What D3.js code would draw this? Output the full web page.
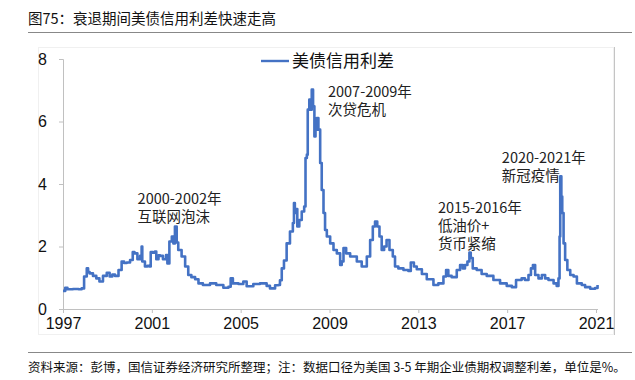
<!DOCTYPE html>
<html>
<head>
<meta charset="utf-8">
<script src="https://cdn.jsdelivr.net/npm/d3@7"></script>
<style>
  body { margin: 0; background: #fff; }
  svg { display: block; }
  .cn { font-family: "Noto Sans CJK SC", "Noto Sans", sans-serif; }
  .num { font-family: "Liberation Sans", Arial, sans-serif; }
</style>
</head>
<body>
<svg width="635" height="380"></svg>
<script>
// decimal year positions as drawn on the chart, and the spread in %
var years = [
  1997.00, 1997.10, 1997.20, 1997.45, 1997.70, 1997.84, 1997.95, 1998.07, 1998.13, 1998.20,
  1998.35, 1998.50, 1998.64, 1998.80, 1998.97, 1999.10, 1999.22, 1999.34, 1999.50, 1999.64,
  1999.75, 1999.87, 2000.02, 2000.14, 2000.22, 2000.35, 2000.47, 2000.53, 2000.54, 2000.57,
  2000.69, 2000.80, 2000.89, 2000.95, 2001.05, 2001.14, 2001.20, 2001.30, 2001.37, 2001.50,
  2001.64, 2001.70, 2001.79, 2001.90, 2001.97, 2002.04, 2002.12, 2002.19, 2002.34, 2002.50,
  2002.64, 2002.78, 2002.95, 2003.10, 2003.30, 2003.62, 2003.90, 2004.22, 2004.45, 2004.55,
  2004.65, 2004.90, 2005.12, 2005.27, 2005.57, 2005.87, 2006.17, 2006.32, 2006.55, 2006.70,
  2006.77, 2006.85, 2006.95, 2007.07, 2007.22, 2007.35, 2007.40, 2007.44, 2007.48, 2007.55,
  2007.64, 2007.75, 2007.86, 2007.92, 2007.98, 2008.02, 2008.09, 2008.15, 2008.20, 2008.26,
  2008.32, 2008.37, 2008.43, 2008.50, 2008.58, 2008.65, 2008.73, 2008.80, 2008.88, 2009.03,
  2009.18, 2009.33, 2009.48, 2009.55, 2009.63, 2009.75, 2009.93, 2010.10, 2010.23, 2010.45,
  2010.68, 2010.83, 2010.95, 2011.05, 2011.15, 2011.25, 2011.35, 2011.46, 2011.57, 2011.70,
  2011.85, 2011.95, 2012.10, 2012.33, 2012.55, 2012.66, 2012.80, 2012.93, 2013.16, 2013.38,
  2013.68, 2013.90, 2014.13, 2014.25, 2014.35, 2014.50, 2014.73, 2014.88, 2015.00, 2015.10,
  2015.21, 2015.30, 2015.36, 2015.45, 2015.63, 2015.85, 2016.08, 2016.38, 2016.68, 2016.98,
  2017.21, 2017.40, 2017.65, 2017.80, 2017.96, 2018.07, 2018.16, 2018.26, 2018.41, 2018.56,
  2018.71, 2018.86, 2019.09, 2019.23, 2019.31, 2019.36, 2019.39, 2019.44, 2019.48, 2019.54,
  2019.61, 2019.71, 2019.84, 2019.99, 2020.14, 2020.36, 2020.51, 2020.74, 2020.96, 2021.07
];
var spread = [
  0.58, 0.68, 0.63, 0.64, 0.63, 0.66, 1.04, 1.30, 1.18, 1.14,
  1.06, 0.98, 0.88, 1.06, 1.16, 1.04, 1.10, 1.06, 1.25, 1.52,
  1.47, 1.49, 1.57, 1.82, 1.78, 1.59, 1.70, 1.70, 2.00, 1.52,
  1.36, 1.38, 1.36, 1.82, 1.80, 1.84, 1.59, 1.72, 1.70, 1.59,
  1.73, 1.46, 2.16, 2.32, 2.10, 2.64, 2.13, 1.89, 1.68, 1.36,
  1.09, 1.02, 0.95, 0.82, 0.77, 0.82, 0.77, 0.68, 0.71, 0.98,
  0.82, 0.80, 0.88, 0.73, 0.80, 0.82, 0.74, 0.66, 0.76, 0.77,
  0.92, 1.30, 1.55, 2.10, 2.48, 2.75, 3.39, 3.07, 3.20, 2.64,
  2.85, 3.12, 3.28, 4.83, 4.94, 6.38, 6.70, 6.38, 7.02, 6.49,
  5.52, 5.74, 6.11, 5.74, 4.67, 3.81, 3.07, 2.53, 2.32, 2.10,
  1.89, 1.78, 1.41, 1.52, 1.95, 1.78, 1.68, 1.68, 1.52, 1.36,
  1.68, 2.21, 2.64, 2.80, 2.64, 2.32, 1.89, 2.00, 2.21, 1.89,
  1.68, 1.36, 1.30, 1.25, 1.22, 1.49, 1.36, 1.27, 1.12, 0.95,
  0.77, 0.82, 1.04, 1.25, 1.06, 1.02, 1.25, 1.41, 1.30, 1.41,
  1.52, 1.81, 1.63, 1.30, 1.25, 1.12, 1.06, 0.93, 0.82, 0.74,
  0.70, 0.93, 0.98, 0.93, 1.09, 1.30, 1.41, 1.09, 0.98, 1.09,
  0.98, 0.93, 0.82, 0.74, 0.98, 2.32, 4.25, 3.60, 3.07, 2.10,
  1.57, 1.25, 1.09, 1.04, 0.82, 0.77, 0.70, 0.65, 0.67, 0.77
];
var xTicks = [1997, 2001, 2005, 2009, 2013, 2017, 2021];
var yTicks = [0, 2, 4, 6, 8];
var seriesName = "美债信用利差";
// annotation anchors in chart units (left edge / first baseline)
var noteAt = [[2000.36, 3.36], [2008.93, 6.78], [2013.88, 3.07], [2016.76, 4.67]];
var noteText = [
  ["2000-2002年", "互联网泡沫"],
  ["2007-2009年", "次贷危机"],
  ["2015-2016年", "低油价+", "货币紧缩"],
  ["2020-2021年", "新冠疫情"]
];

var svg = d3.select("svg");

var x = d3.scaleLinear().domain([1997, 2021]).range([63, 596]);
var y = d3.scaleLinear().domain([0, 8]).range([309, 59]);

// title + rules
svg.append("text").attr("class", "cn")
  .attr("x", 28).attr("y", 24)
  .attr("font-size", 14.5).attr("fill", "#111")
  .text("图75：衰退期间美债信用利差快速走高");
svg.append("line").attr("x1", 28).attr("x2", 632).attr("y1", 32.5).attr("y2", 32.5)
  .attr("stroke", "#888").attr("stroke-width", 1);

// chart frame
svg.append("rect").attr("x", 38.5).attr("y", 47.5).attr("width", 575).attr("height", 287)
  .attr("fill", "none").attr("stroke", "#f0f0f0");
svg.append("line").attr("x1", 614.5).attr("x2", 614.5).attr("y1", 47).attr("y2", 335)
  .attr("stroke", "#c4c4c4");

// axes
var yAxis = svg.append("g")
  .attr("transform", "translate(63,0)")
  .call(d3.axisLeft(y).tickValues(yTicks).tickSize(4).tickPadding(12));
var xAxis = svg.append("g")
  .attr("transform", "translate(0,309)")
  .call(d3.axisBottom(x).tickValues(xTicks).tickFormat(d3.format("d")).tickSize(4).tickPadding(5));

[xAxis, yAxis].forEach(function(g) {
  g.select(".domain").attr("stroke", "#c0c0c0");
  g.selectAll(".tick line").attr("stroke", "#c0c0c0");
  g.selectAll(".tick text").attr("class", "num").attr("font-size", 16).attr("fill", "#111");
});
xAxis.select(".domain").attr("d", "M63,0.5H598");

// series
var data = years.map(function(d, i) { return [d, spread[i]]; });
var line = d3.line()
  .curve(d3.curveStepAfter)
  .x(function(d) { return x(d[0]); })
  .y(function(d) { return y(d[1]); });

svg.append("path")
  .datum(data)
  .attr("d", line)
  .attr("fill", "none")
  .attr("stroke", "#4472C4")
  .attr("stroke-width", 2.6)
  .attr("stroke-linejoin", "round");

// legend
svg.append("line").attr("x1", 261).attr("x2", 289).attr("y1", 61).attr("y2", 61)
  .attr("stroke", "#4472C4").attr("stroke-width", 2.4);
svg.append("text").attr("class", "cn")
  .attr("x", 292).attr("y", 67)
  .attr("font-size", 17).attr("fill", "#111")
  .text(seriesName);

// annotations
noteAt.forEach(function(p, k) {
  var t = svg.append("text").attr("class", "cn")
    .attr("x", x(p[0])).attr("y", y(p[1]))
    .attr("font-size", 14.5).attr("fill", "#222");
  noteText[k].forEach(function(s, i) {
    t.append("tspan").attr("x", x(p[0])).attr("dy", i === 0 ? 0 : 18).text(s);
  });
});

// footer
svg.append("line").attr("x1", 28).attr("x2", 632).attr("y1", 352.5).attr("y2", 352.5)
  .attr("stroke", "#888").attr("stroke-width", 1);
svg.append("text").attr("class", "cn")
  .attr("x", 28).attr("y", 372)
  .attr("font-size", 12.5).attr("fill", "#111")
  .text("资料来源：彭博，国信证券经济研究所整理；注：数据口径为美国 3-5 年期企业债期权调整利差，单位是%。");
</script>
</body>
</html>
